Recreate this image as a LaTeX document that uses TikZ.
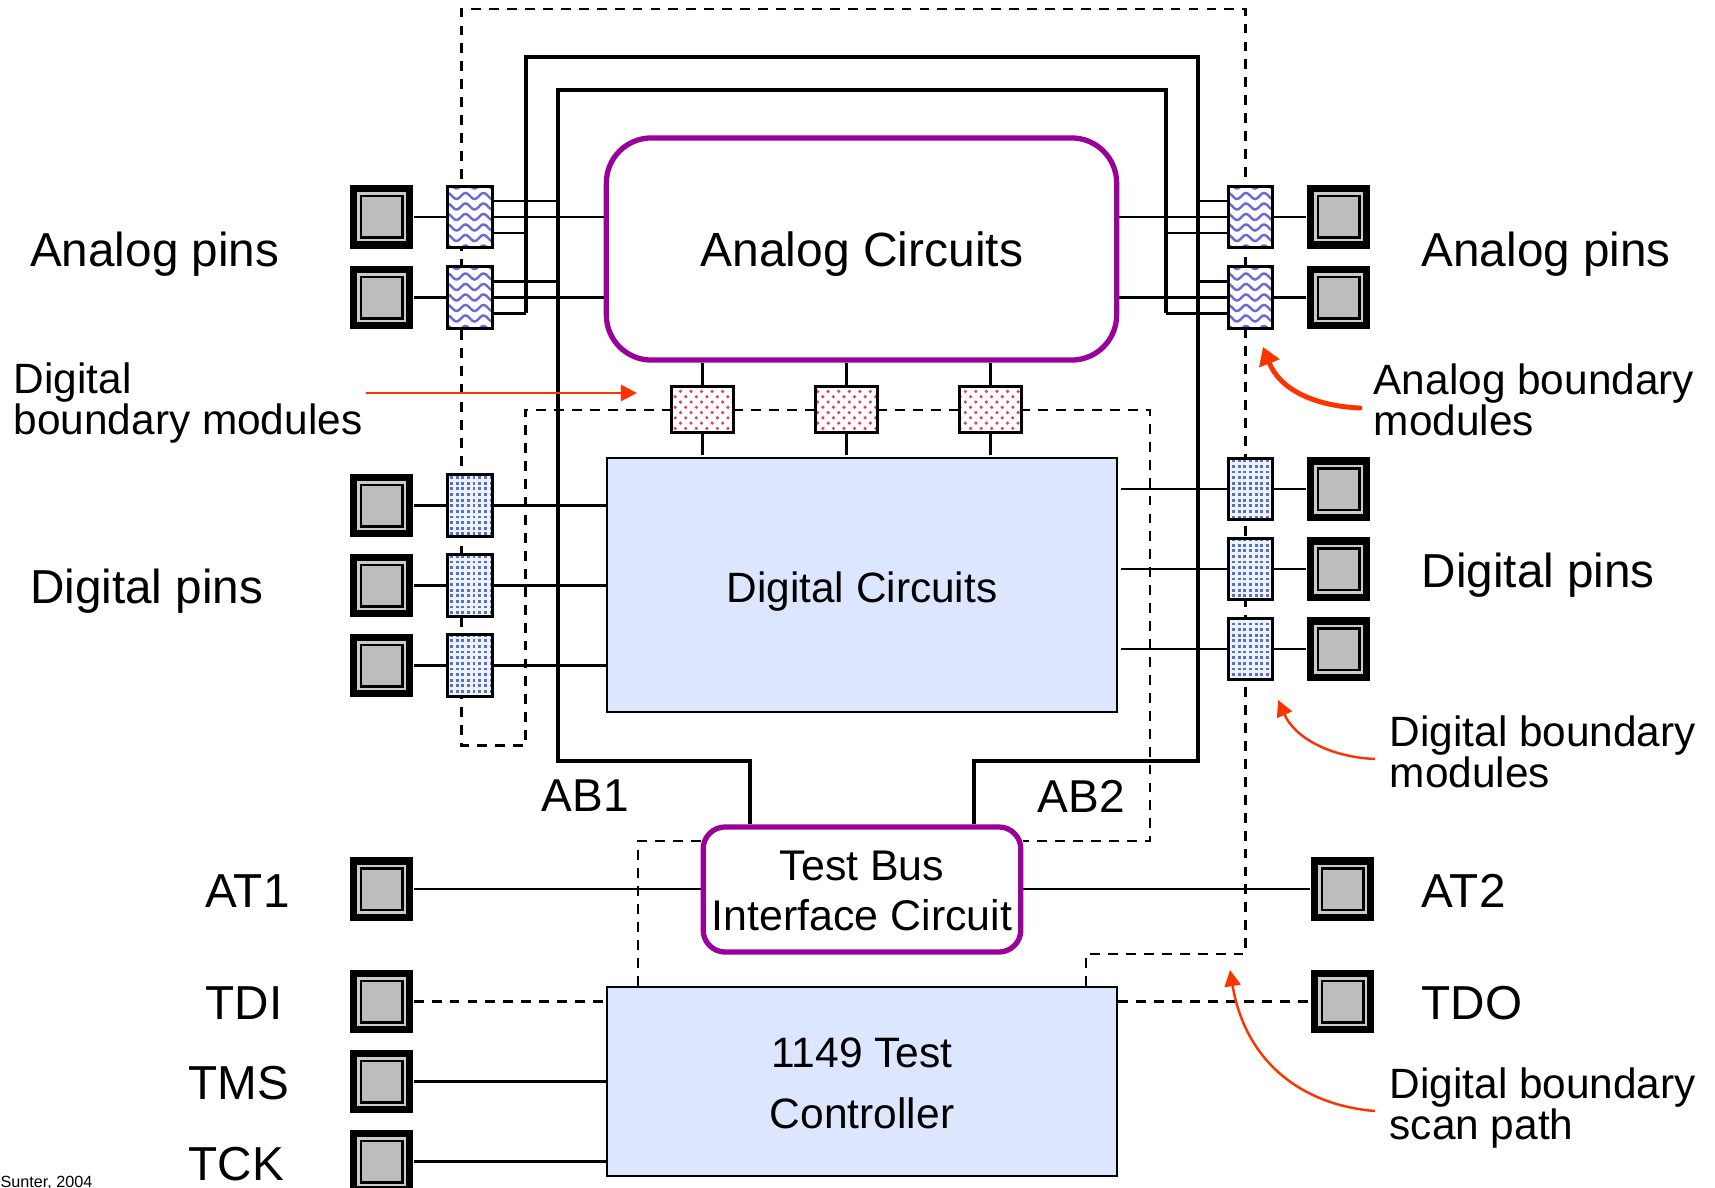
\documentclass[tikz,border=0pt]{standalone}
\usepackage{fontspec}
\setmainfont{Liberation Sans}
\usetikzlibrary{arrows.meta, patterns, backgrounds, calc}
\definecolor{purpleline}{HTML}{990099}
\definecolor{paleblue}{HTML}{DDE6FF}
\definecolor{padgray}{HTML}{BDBDBD}
\definecolor{redarrow}{HTML}{FF3300}
\definecolor{wavecol}{HTML}{6A6AD8}
\definecolor{dotblue}{HTML}{5570C8}
\definecolor{dotred}{HTML}{E0405A}
\pgfdeclarepatternformonly{finedots}{\pgfqpoint{-0.5pt}{-0.5pt}}{\pgfqpoint{1.1pt}{1.1pt}}{\pgfqpoint{1.6pt}{1.6pt}}{%
    \pgfpathrectangle{\pgfqpoint{0pt}{0pt}}{\pgfqpoint{0.8pt}{0.8pt}}\pgfusepath{fill}}
\tikzset{
    bigtext/.style={font=\fontsize{13.55}{16}\selectfont, anchor=west, inner sep=0pt},
    smalltext/.style={font=\fontsize{12.05}{11.5}\selectfont, anchor=west, inner sep=0pt, align=left},
    pinpad/.style={minimum size=0.63cm, inner sep=0pt, fill=black, path picture={
        \fill[padgray!80!white] ($(path picture bounding box.center)+(-24.5,-24.5)$) rectangle ++(49,49);
        \fill[black] ($(path picture bounding box.center)+(-22,-22)$) rectangle ++(44,44);
        \fill[padgray] ($(path picture bounding box.center)+(-19.5,-19.5)$) rectangle ++(39,39);}},
    wavemod/.style={draw, line width=0.75pt, minimum width=0.445cm, minimum height=0.615cm, inner sep=0pt, fill=white, path picture={
        \foreach \k in {-3,...,3}
            \draw[wavecol, line width=0.7pt, shift={(path picture bounding box.center)}] plot[domain=-26:26, samples=40] (\x, {\k*10.5 + 3*sin(20*\x)});}},
    dotmod/.style={draw, line width=0.75pt, minimum width=0.445cm, minimum height=0.615cm, inner sep=0pt,
        preaction={fill=paleblue!50!white}, pattern=finedots, pattern color=dotblue},
    redmod/.style={draw, line width=0.75pt, minimum width=0.615cm, minimum height=0.455cm, inner sep=0pt,
        preaction={fill=white}, pattern=crosshatch dots, pattern color=dotred},
    analogbox/.style={draw=purpleline, line width=1.5pt, fill=white, rounded corners=0.45cm, align=center, inner sep=0pt},
    digitalbox/.style={draw, line width=0.7pt, fill=paleblue, align=center, inner sep=0pt},
    wire/.style={line width=0.75pt},
    bus/.style={line width=1.1pt},
    scanpath/.style={line width=0.7pt, dash pattern=on 2.8pt off 2.3pt},
    redline/.style={redarrow, line width=0.7pt, -{Triangle[length=4.6pt, width=4.6pt]}},
    redthick/.style={redarrow, line width=1.4pt, line cap=round, -{Triangle[length=5pt, width=6pt]}}
}
\begin{document}
\begin{tikzpicture}[x=0.01cm, y=-0.01cm]
    \useasboundingbox (0,0) rectangle (1715,1188);
    % 1. Circuits
    \node[analogbox, minimum width=5.10cm, minimum height=2.22cm] (ac) at (861.5,249) {};
    \node[digitalbox, minimum width=5.10cm, minimum height=2.54cm] (dc) at (862,585) {};
    \node[analogbox, rounded corners=0.22cm, minimum width=3.175cm, minimum height=1.25cm] (tbic) at (862,889.5) {};
    \node[digitalbox, minimum width=5.10cm, minimum height=1.89cm] (ctrl) at (862,1081.5) {};
    \node[font=\fontsize{13.65}{16}\selectfont, inner sep=0pt] (tac) at (862,254) {Analog Circuits};
    \node[font=\fontsize{12.05}{14}\selectfont, inner sep=0pt] (tdc) at (862,591.5) {Digital Circuits};
    \node[font=\fontsize{12.2}{14.3}\selectfont, inner sep=0pt, align=center] (ttb) at (862,891) {Test Bus\\Interface Circuit};
    \node[font=\fontsize{12.1}{17.5}\selectfont, inner sep=0pt, align=center] (tct) at (862,1083.5) {1149 Test\\Controller};

    % 2. Pads
    \node[pinpad] (pa1) at (381.5,217) {};
    \node[pinpad] (pa2) at (381.5,297.5) {};
    \node[pinpad] (pd1) at (381.5,505.5) {};
    \node[pinpad] (pd2) at (381.5,585.5) {};
    \node[pinpad] (pd3) at (381.5,665.5) {};
    \node[pinpad] (pat1) at (381.5,889) {};
    \node[pinpad] (ptdi) at (381.5,1001.5) {};
    \node[pinpad] (ptms) at (381.5,1081.5) {};
    \node[pinpad] (ptck) at (381.5,1161.5) {};
    \node[pinpad] (qa1) at (1338.5,217) {};
    \node[pinpad] (qa2) at (1338.5,297.5) {};
    \node[pinpad] (qd1) at (1338.5,489) {};
    \node[pinpad] (qd2) at (1338.5,569) {};
    \node[pinpad] (qd3) at (1338.5,649) {};
    \node[pinpad] (pat2) at (1342.5,889) {};
    \node[pinpad] (ptdo) at (1342.5,1001.5) {};

    % 3. Boundary modules
    \node[wavemod] (ma1) at (470,217) {};
    \node[wavemod] (ma2) at (470,297.5) {};
    \node[dotmod] (md1) at (470,505.5) {};
    \node[dotmod] (md2) at (470,585.5) {};
    \node[dotmod] (md3) at (470,665.5) {};
    \node[wavemod] (na1) at (1250.5,217) {};
    \node[wavemod] (na2) at (1250.5,297.5) {};
    \node[dotmod] (nd1) at (1250.5,489) {};
    \node[dotmod] (nd2) at (1250.5,569) {};
    \node[dotmod] (nd3) at (1250.5,649) {};
    \node[redmod] (r1) at (702.5,409.5) {};
    \node[redmod] (r2) at (846.5,409.5) {};
    \node[redmod] (r3) at (990.5,409.5) {};

    % 4. Wires, buses and scan path go underneath
    \begin{scope}[on background layer]
        % scan path
        \draw[scanpath] (ctrl.north -| 1086,0) -- (1086,954) -- (1245.7,954) -- (1245.7,9) -- (461.7,9) -- (461.7,745.5) -- (525.5,745.5) -- (525.5,410) -- (1150,410) -- (1150,841) -- (tbic.east |- 0,841);
        \draw[scanpath] (tbic.west |- 0,841) -- (638,841) -- (ctrl.north -| 638,0);
        \draw[scanpath] (ptdi.east) -- (ptdi.east -| ctrl.west);
        \draw[scanpath] (ptdo.west -| ctrl.east) -- (ptdo.west);
        % AB1 and AB2
        \draw[bus] (tbic.north -| 750,0) -- (750,761) -- (557.7,761) -- (557.7,90) -- (1165.7,90) -- (1165.7,313);
        \draw[bus] (tbic.north -| 974,0) -- (974,761) -- (1197.7,761) -- (1197.7,57) -- (525.7,57) -- (525.7,313);
        % analog modules
        \foreach \mod/\y in {ma1/217, ma2/297.5} {
            \draw[wire] ($(\mod.east)+(0,-16)$) -- +(64.7,0);
            \draw[wire] ($(\mod.east)+(0,16)$) -- +(32.7,0);
        }
        \foreach \mod/\y in {na1/217, na2/297.5} {
            \draw[wire] ($(\mod.west)+(0,-16)$) -- +(-29.3,0);
            \draw[wire] ($(\mod.west)+(0,16)$) -- +(-61.3,0);
        }
        \draw[wire] (pa1) -- (ma1) -- (ma1 -| ac.west);
        \draw[wire] (pa2) -- (ma2) -- (ma2 -| ac.west);
        \draw[wire] (qa1) -- (na1) -- (na1 -| ac.east);
        \draw[wire] (qa2) -- (na2) -- (na2 -| ac.east);
        % digital modules
        \foreach \i in {1,2,3} {
            \draw[wire] (pd\i) -- (md\i) -- (md\i -| dc.west);
            \draw[wire] (qd\i) -- (nd\i) -- ($(nd\i -| dc.east)+(3,0)$);
        }
        \foreach \i in {1,2,3} {
            \draw[wire] (r\i) -- (r\i |- ac.south);
            \draw[wire] (r\i) -- ($(r\i |- dc.north)+(0,-2)$);
        }
        % test pins
        \draw[wire] (pat1) -- (pat1 -| tbic.west);
        \draw[wire] (pat2) -- (pat2 -| tbic.east);
        \draw[wire] (ptms) -- (ptms -| ctrl.west);
        \draw[wire] (ptck) -- (ptck -| ctrl.west);
    \end{scope}

    % 5. Labels
    \node[bigtext] (lanl) at (29.5,254.5) {Analog pins};
    \node[bigtext] (lanr) at (1421,254.5) {Analog pins};
    \node[bigtext] (ldgl) at (29.5,591) {Digital pins};
    \node[bigtext] (ldgr) at (1421,575) {Digital pins};
    \node[bigtext, font=\fontsize{13.1}{16}\selectfont] (lab1) at (541,796) {AB1};
    \node[bigtext, font=\fontsize{13.1}{16}\selectfont] (lab2) at (1037,796) {AB2};
    \node[bigtext] (lat1) at (205,891) {AT1};
    \node[bigtext] (lat2) at (1421,891) {AT2};
    \node[bigtext] (ltdi) at (205,1003) {TDI};
    \node[bigtext] (ltdo) at (1421,1003) {TDO};
    \node[bigtext] (ltms) at (188,1083) {TMS};
    \node[bigtext] (ltck) at (188,1164) {TCK};
    \node[smalltext] (ldbm) at (13,403) {Digital\\boundary modules};
    \node[smalltext] (labm) at (1373,400) {Analog boundary\\modules};
    \node[smalltext] (lrbm) at (1389,752) {Digital boundary\\modules};
    \node[smalltext] (lscn) at (1389,1108) {Digital boundary\\scan path};
    \node[anchor=west, inner sep=0pt, font=\fontsize{4.6}{5}\selectfont] (lsrc) at (0,1183) {Sunter, 2004};

    % 6. Red pointers
    \coordinate (tipa) at (1263,347);
    \coordinate (tipb) at (1278,700);
    \coordinate (tipc) at (1230,970);
    \coordinate (tipd) at (637,393);
    \draw[redline] (366,393) -- (tipd);
    \draw[redthick] (1360,408) .. controls (1315,406) and (1280,390) .. (tipa);
    \draw[redline] (1375,759) .. controls (1330,757) and (1295,738) .. (tipb);
    \draw[redline] (1375,1111) .. controls (1300,1105) and (1245,1060) .. (tipc);
\end{tikzpicture}
\end{document}
